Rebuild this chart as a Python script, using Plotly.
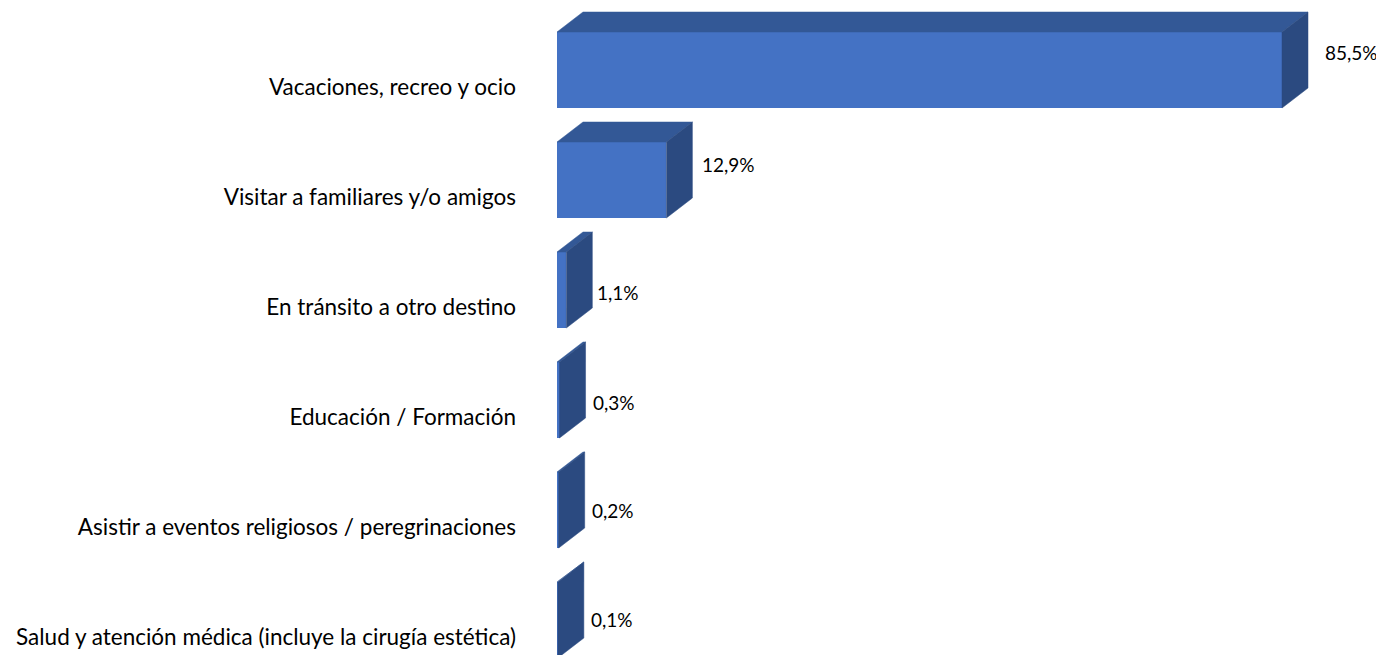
import plotly.graph_objects as go

# ---- data ----
categories = [
    "Vacaciones, recreo y ocio",
    "Visitar a familiares y/o amigos",
    "En tránsito a otro destino",
    "Educación / Formación",
    "Asistir a eventos religiosos / peregrinaciones",
    "Salud y atención médica (incluye la cirugía estética)",
]
values = [85.5, 12.9, 1.1, 0.3, 0.2, 0.1]
value_labels = ["85,5%", "12,9%", "1,1%", "0,3%", "0,2%", "0,1%"]

# ---- styling ----
PAGE_OFFSET = 8                # default body margin of the html page
W, H = 1384 - PAGE_OFFSET, 655 - PAGE_OFFSET
L_MARGIN = 557 - PAGE_OFFSET
PX_PER_UNIT_X = 725 / 85.5     # pixels per percentage point
PX_PER_CAT = 110               # pixels per category slot
FRONT = "#4472C4"
TOP = "#335896"
SIDE = "#2B4A80"
BAR_W = 76 / PX_PER_CAT
DX = 26 / PX_PER_UNIT_X
DY = 20 / PX_PER_CAT
FONT = "Lato"

label_xshift = [15, 8, 3, 5, 5, 5]
label_yshift = [18, 16, -2, -2, 0, 1]

idx = list(range(len(categories)))

fig = go.Figure()

# front faces
fig.add_trace(go.Bar(
    x=values, y=idx, orientation="h", width=BAR_W,
    marker=dict(color=FRONT, line=dict(width=0)),
    hoverinfo="skip", showlegend=False,
))

# top and side faces (3D effect)
for i, v in zip(idx, values):
    top = i - BAR_W / 2
    bot = i + BAR_W / 2
    fig.add_trace(go.Scatter(
        x=[0, DX, v + DX, v, 0],
        y=[top, top - DY, top - DY, top, top],
        fill="toself", fillcolor=TOP, mode="lines",
        line=dict(color=TOP, width=0.5),
        hoverinfo="skip", showlegend=False,
    ))
    fig.add_trace(go.Scatter(
        x=[v, v + DX, v + DX, v, v],
        y=[top, top - DY, bot - DY, bot, top],
        fill="toself", fillcolor=SIDE, mode="lines",
        line=dict(color=SIDE, width=0.5),
        hoverinfo="skip", showlegend=False,
    ))

# data labels
for i, v, t, xs, ys in zip(idx, values, value_labels, label_xshift, label_yshift):
    fig.add_annotation(
        x=v + DX, y=i, text=t, showarrow=False,
        xanchor="left", yanchor="middle", xshift=xs, yshift=ys,
        font=dict(family=FONT, size=19, color="#000000"),
    )

plot_w = W - L_MARGIN
y_top = -(70 - PAGE_OFFSET) / PX_PER_CAT
y_bot = y_top + H / PX_PER_CAT

fig.update_layout(
    width=W, height=H,
    margin=dict(l=L_MARGIN, r=0, t=0, b=0),
    plot_bgcolor="white", paper_bgcolor="white",
    bargap=0,
    xaxis=dict(range=[0, plot_w / PX_PER_UNIT_X], visible=False, fixedrange=True),
    yaxis=dict(
        range=[y_bot, y_top],
        tickvals=[i + 17 / PX_PER_CAT for i in idx],
        ticktext=categories,
        ticks="", showgrid=False, zeroline=False, showline=False,
        automargin=False, ticklabelstandoff=40, ticklabeloverflow="allow",
        tickfont=dict(family=FONT, size=22.5, color="#000000"),
        fixedrange=True,
    ),
    showlegend=False,
)

fig.write_html("out.html")
